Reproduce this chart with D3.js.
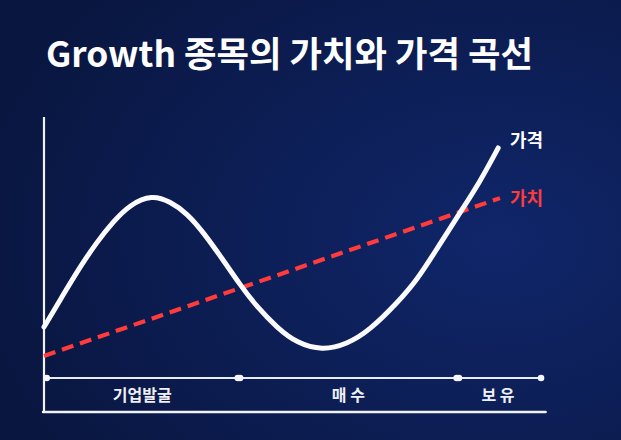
<!DOCTYPE html>
<html><head><meta charset="utf-8">
<script src="https://cdn.jsdelivr.net/npm/d3@7"></script>
<style>
html,body{margin:0;padding:0;background:#0b1a4c;}
svg{display:block;}
</style></head>
<body>
<script>
// ---- data ----
const titleText = "Growth 종목의 가치와 가격 곡선";
const timeT  = [0, 4.2, 7.9, 11.6, 15.1, 18.9, 23.7, 27.6, 31.4, 34.9, 39.3, 43, 46.7, 51.1, 55.5, 61, 66.4, 71.5, 77.4, 81.8, 86.2, 91.2, 95.6, 99.6];
const priceV = [28.8, 39.7, 49.2, 57.6, 64.4, 70.4, 73.6, 71.4, 67.3, 61, 51.5, 43.1, 35.6, 28.6, 23.3, 20.9, 22.9, 27.8, 36.9, 44.7, 55.4, 67.5, 78, 89.5];
const valueT = [0, 100];
const valueV = [19, 72.5];
const seriesLabels = ["가격", "가치"];
const phaseNames  = ["기업발굴", "매 수", "보 유"];
const phaseStarts = [0.6, 43, 91];
const phaseEnds   = [42.5, 90.5, 109];

const W = 621, H = 440;
const svg = d3.select("body").append("svg").attr("width", W).attr("height", H);

const defs = svg.append("defs");
const bg = defs.append("radialGradient").attr("id","bg").attr("cx","80%").attr("cy","55%").attr("r","85%");
bg.append("stop").attr("offset","0%").attr("stop-color","#10266a");
bg.append("stop").attr("offset","100%").attr("stop-color","#091640");
svg.append("rect").attr("width",W).attr("height",H).attr("fill","url(#bg)");

const x = d3.scaleLinear().domain([0, 100]).range([44, 500]);
const y = d3.scaleLinear().domain([0, 100]).range([412, 117]);

// title
svg.append("text").attr("x", 46).attr("y", 67).attr("text-anchor","start")
  .attr("font-family","'Noto Sans CJK KR', 'Noto Sans', sans-serif").attr("font-weight","700")
  .attr("font-size", 35).attr("fill","#ffffff")
  .attr("textLength", 487).attr("lengthAdjust","spacingAndGlyphs").text(titleText);

// axes
svg.append("line").attr("x1", x(0)).attr("x2", x(0)).attr("y1", y(100)).attr("y2", y(0))
  .attr("stroke","#f0f2f8").attr("stroke-width",2.2);
svg.append("line").attr("x1", x(0)-1).attr("x2", x(110)).attr("y1", y(0)).attr("y2", y(0))
  .attr("stroke","#f0f2f8").attr("stroke-width",2.5).attr("stroke-linecap","round");

// value (dashed)
const valData = valueT.map((t,i)=>({t, v:valueV[i]}));
svg.append("path").datum(valData)
  .attr("d", d3.line().x(d=>x(d.t)).y(d=>y(d.v)))
  .attr("fill","none").attr("stroke","#ff3b3b").attr("stroke-width",4.2)
  .attr("stroke-dasharray","12,7");

// price curve
const priceData = timeT.map((t,i)=>({t, v:priceV[i]}));
svg.append("path").datum(priceData)
  .attr("d", d3.line().x(d=>x(d.t)).y(d=>y(d.v)).curve(d3.curveBasis))
  .attr("fill","none").attr("stroke","#fbfbff").attr("stroke-width",5)
  .attr("stroke-linecap","round").attr("stroke-linejoin","round");

// series labels
const lab = svg.append("g").attr("font-family","'Noto Sans CJK KR', sans-serif").attr("font-weight","700").attr("font-size",18);
lab.append("text").attr("x", x(100)+10).attr("y", y(priceV[priceV.length-1])-1).attr("fill","#ffffff").text(seriesLabels[0]);
lab.append("text").attr("x", x(100)+10).attr("y", y(valueV[1])+7).attr("fill","#ff3b3b").text(seriesLabels[1]);

// phases
const ay = 378;
const pg = svg.append("g");
phaseNames.forEach((name,i)=>{
  const x1 = x(phaseStarts[i]), x2 = x(phaseEnds[i]);
  pg.append("line").attr("x1",x1).attr("x2",x2).attr("y1",ay).attr("y2",ay)
    .attr("stroke","#e8ecf6").attr("stroke-width",2.2);
  [x1,x2].forEach(px=>pg.append("circle").attr("cx",px).attr("cy",ay).attr("r",3.3).attr("fill","#f4f6fb"));
  pg.append("text").attr("x",(x1+x2)/2 + (i===2? -2 : 0)).attr("y",401)
    .attr("text-anchor","middle").attr("font-family","'Noto Sans CJK KR', sans-serif")
    .attr("font-weight","700").attr("font-size",16).attr("fill","#eef0f6").text(name);
});
</script>
</body></html>
